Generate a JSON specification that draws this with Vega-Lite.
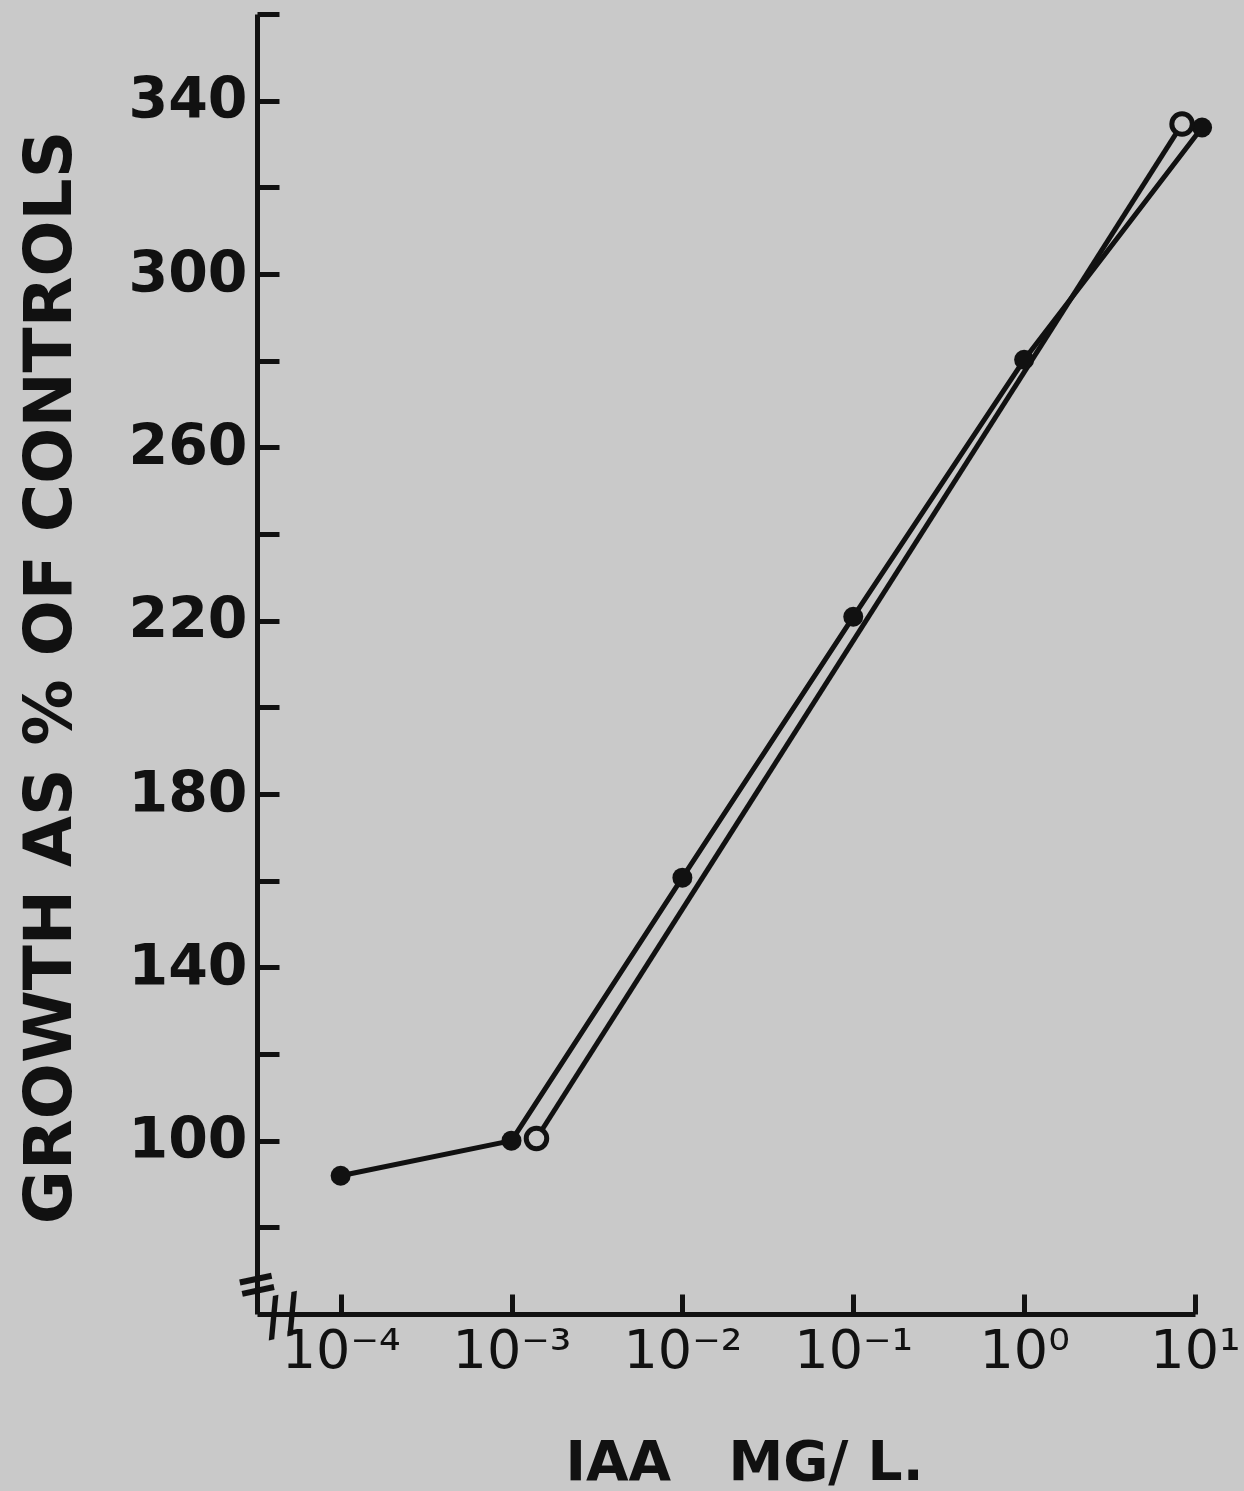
{
  "$schema": "https://vega.github.io/schema/vega-lite/v6.json",
  "autosize": {"type": "none"},
  "width": 938,
  "height": 1300,
  "padding": {"left": 257, "top": 14, "right": 49, "bottom": 177},
  "background": "#c9c9c9",
  "config": {"view": {"stroke": null}, "font": "DejaVu Sans"},
  "datasets": {
    "growth": [
      {"series": "filled", "iaa": 0.0001, "growth": 91.9},
      {"series": "filled", "iaa": 0.001, "growth": 100},
      {"series": "filled", "iaa": 0.01, "growth": 160.7},
      {"series": "filled", "iaa": 0.1, "growth": 220.9},
      {"series": "filled", "iaa": 1, "growth": 280.2},
      {"series": "filled", "iaa": 11, "growth": 333.8},
      {"series": "open", "iaa": 0.0014, "growth": 100.5},
      {"series": "open", "iaa": 8.4, "growth": 334.6}
    ],
    "breaks": [
      {"iaa": 0.0000324, "growth": 66.7, "label": "="},
      {"iaa": 0.000046, "growth": 59.5, "label": "//"}
    ]
  },
  "layer": [
    {
      "data": {"name": "growth"},
      "mark": {"type": "line", "color": "#111", "strokeWidth": 5},
      "encoding": {
        "x": {
          "field": "iaa", "type": "quantitative",
          "scale": {"type": "log", "domain": [0.0000324, 10], "nice": false},
          "axis": {
            "values": [0.0001, 0.001, 0.01, 0.1, 1, 10],
            "labelExpr": "['10⁻⁴','10⁻³','10⁻²','10⁻¹','10⁰','10¹'][round(log(datum.value)/LN10)+4]",
            "tickSize": -20, "tickWidth": 5, "tickColor": "#111",
            "domainColor": "#111", "domainWidth": 5,
            "labelFontSize": 54, "labelFontWeight": "normal", "labelColor": "#111",
            "labelPadding": 30, "labelFlush": false, "labelOverlap": false, "labelBound": false,
            "grid": false,
            "title": "IAA\u00a0\u00a0\u00a0MG/ L.", "titleFontSize": 55, "titleFontWeight": "bold", "titleColor": "#111",
            "titleX": 487, "titleY": 165, "titleBaseline": "alphabetic", "titleAlign": "center", "titleAnchor": null
          }
        },
        "y": {
          "field": "growth", "type": "quantitative",
          "scale": {"domain": [60, 360], "nice": false, "zero": false},
          "axis": {
            "values": [80, 100, 120, 140, 160, 180, 200, 220, 240, 260, 280, 300, 320, 340, 360],
            "labelExpr": "(datum.value - 100) % 40 == 0 ? datum.value : ''",
            "tickSize": -22, "tickWidth": 5, "tickColor": "#111",
            "domainColor": "#111", "domainWidth": 5,
            "labelFontSize": 57, "labelFontWeight": "bold", "labelColor": "#111",
            "labelPadding": 32, "labelFlush": false, "labelOverlap": false, "labelBound": false,
            "grid": false,
            "title": "GROWTH AS % OF CONTROLS", "titleFontSize": 66, "titleFontWeight": "bold", "titleColor": "#111",
            "titleX": -187, "titleY": 663, "titleBaseline": "alphabetic", "titleAlign": "center", "titleAngle": -90, "titleAnchor": null
          }
        },
        "detail": {"field": "series"}
      }
    },
    {
      "data": {"name": "growth"},
      "transform": [{"filter": "datum.series == 'filled'"}],
      "mark": {"type": "point", "shape": "circle", "filled": true, "color": "#111", "size": 400, "opacity": 1},
      "encoding": {
        "x": {"field": "iaa", "type": "quantitative"},
        "y": {"field": "growth", "type": "quantitative"}
      }
    },
    {
      "data": {"name": "growth"},
      "transform": [{"filter": "datum.series == 'open'"}],
      "mark": {"type": "point", "shape": "circle", "filled": false, "color": "#111", "strokeWidth": 5, "size": 420, "fill": "#c9c9c9", "fillOpacity": 1, "opacity": 1},
      "encoding": {
        "x": {"field": "iaa", "type": "quantitative"},
        "y": {"field": "growth", "type": "quantitative"}
      }
    },
    {
      "data": {"name": "breaks"},
      "mark": {"type": "text", "fontSize": 52, "fontWeight": "bold", "color": "#111", "angle": -12},
      "encoding": {
        "x": {"field": "iaa", "type": "quantitative"},
        "y": {"field": "growth", "type": "quantitative"},
        "text": {"field": "label"}
      }
    }
  ]
}
